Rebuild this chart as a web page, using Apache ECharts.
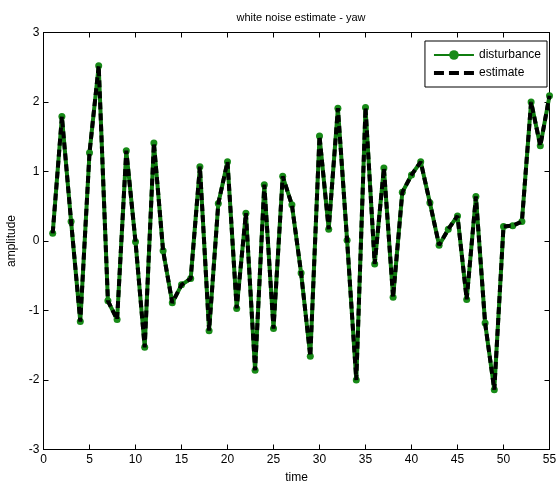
<!DOCTYPE html>
<html>
<head>
<meta charset="utf-8">
<script src="https://cdn.jsdelivr.net/npm/echarts@6/dist/echarts.min.js"></script>
<style>html,body{margin:0;padding:0;background:#fff}#c{width:558px;height:489px}</style>
</head>
<body>
<div id="c"></div>
<script>
const timeSteps = [1,2,3,4,5,6,7,8,9,10,11,12,13,14,15,16,17,18,19,20,21,22,23,24,25,26,27,28,29,30,31,32,33,34,35,36,37,38,39,40,41,42,43,44,45,46,47,48,49,50,51,52,53,54,55];
const disturbance = [0.11,1.79,0.28,-1.16,1.27,2.52,-0.86,-1.13,1.30,-0.01,-1.53,1.41,-0.14,-0.89,-0.63,-0.54,1.07,-1.29,0.54,1.14,-0.97,0.40,-1.86,0.81,-1.26,0.93,0.52,-0.46,-1.66,1.51,0.17,1.91,0.01,-2.00,1.92,-0.33,1.05,-0.81,0.70,0.95,1.14,0.55,-0.06,0.17,0.36,-0.84,0.64,-1.18,-2.14,0.21,0.22,0.28,2.00,1.37,2.09];
const estimate = disturbance.slice();
const xTicks = [0,5,10,15,20,25,30,35,40,45,50,55];
const yTicks = [-3,-2,-1,0,1,2,3];

const font = 'Liberation Sans';
const pairs = arr => timeSteps.map((t,i)=>[t,arr[i]]);
const chart = echarts.init(document.getElementById('c'));
const axCommon = () => ({
  axisLine:{show:true,onZero:false,lineStyle:{color:'#000',width:1}},
  axisTick:{show:true,inside:true,length:5,lineStyle:{color:'#000'}},
  splitLine:{show:false}
});
chart.setOption({
  animation:false,
  backgroundColor:'#fff',
  title:{text:'white noise estimate - yaw',left:296,top:7,textAlign:'center',
    textStyle:{fontFamily:font,fontSize:11,fontWeight:'normal',color:'#000'}},
  grid:{left:43.5,right:8.5,top:32.5,bottom:39.5,show:true,borderColor:'#000',borderWidth:1,backgroundColor:'#fff',
    containLabel:false,outerBoundsMode:'none'},
  legend:{
    orient:'vertical',right:11,top:41,
    backgroundColor:'#fff',borderColor:'#000',borderWidth:1,borderRadius:0,
    padding:[8,6,8,8],itemGap:6,itemWidth:40,itemHeight:12,
    textStyle:{fontFamily:font,fontSize:12,color:'#000'},
    data:[{name:'disturbance'},{name:'estimate',icon:'path://M0,0H10V4H0Z M15,0H25V4H15Z M30,0H40V4H30Z',itemStyle:{color:'#000'}}]
  },
  xAxis:[
    Object.assign({type:'value',min:0,max:55,interval:5,position:'bottom',
      name:'time',nameLocation:'middle',nameGap:22,
      nameTextStyle:{fontFamily:font,fontSize:12,color:'#000'},
      axisLabel:{fontFamily:font,fontSize:12,color:'#000',margin:4}},axCommon()),
    Object.assign({type:'value',min:0,max:55,interval:5,position:'top',
      axisLabel:{show:false}},axCommon())
  ],
  yAxis:[
    Object.assign({type:'value',min:-3,max:3,interval:1,position:'left',
      name:'amplitude',nameLocation:'middle',nameGap:26,
      nameTextStyle:{fontFamily:font,fontSize:12,color:'#000'},
      axisLabel:{fontFamily:font,fontSize:12,color:'#000',margin:4}},axCommon()),
    Object.assign({type:'value',min:-3,max:3,interval:1,position:'right',
      axisLabel:{show:false}},axCommon())
  ],
  series:[
    {name:'disturbance',type:'line',data:pairs(disturbance),
      symbol:'circle',symbolSize:7,showAllSymbol:true,
      lineStyle:{color:'#0f7d0f',width:4},itemStyle:{color:'#178a17'},z:2},
    {name:'estimate',type:'line',data:pairs(estimate),
      symbol:'none',
      lineStyle:{color:'#000',width:4,type:[7,4]},itemStyle:{color:'#000'},z:3}
  ]
});
</script>
</body>
</html>
